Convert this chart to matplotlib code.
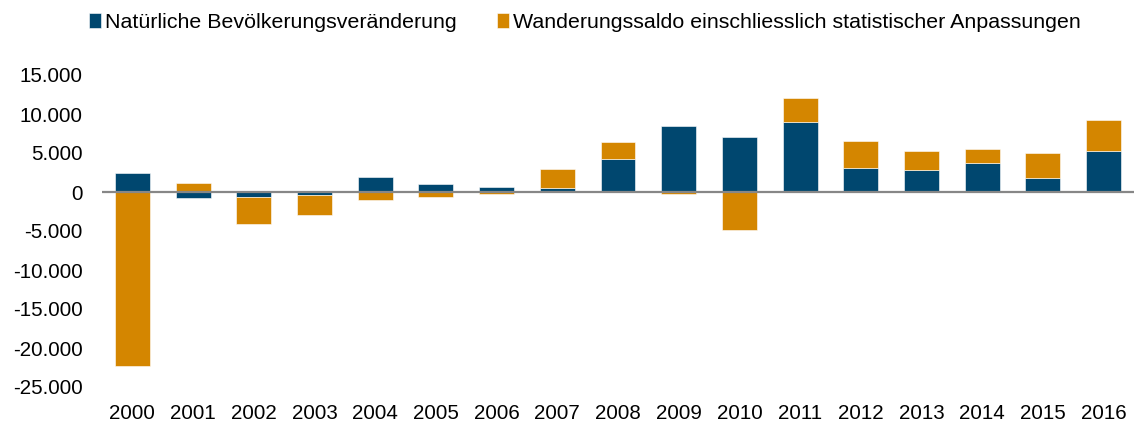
import matplotlib
matplotlib.use("Agg")
import matplotlib.pyplot as plt
import matplotlib.ticker as mticker
import numpy as np

plt.rcParams['font.family'] = ['Liberation Sans', 'DejaVu Sans']

years = [str(y) for y in range(2000, 2017)]
natural = [2500, -800, -650, -430, 1950, 1000, 650, 550, 4250, 8400, 7050,
           9000, 3100, 2800, 3700, 1850, 5300]
migration = [-22300, 1100, -3400, -2500, -1050, -650, -300, 2400, 2200, -200, -4900,
             3050, 3500, 2400, 1750, 3100, 3900]
series_labels = ["Natürliche Bevölkerungsveränderung",
                 "Wanderungssaldo einschliesslich statistischer Anpassungen"]
colors = ["#00476F", "#D48600"]

fig = plt.figure(figsize=(11.34, 4.24), dpi=100)
ax = fig.add_axes([102 / 1134, 37 / 424, 1032 / 1134, 312 / 424])

x = np.arange(len(years))
pos_base = np.zeros(len(years))
neg_base = np.zeros(len(years))
handles = []
for vals, color, label in zip([natural, migration], colors, series_labels):
    vals = np.array(vals, dtype=float)
    bottom = np.where(vals >= 0, pos_base, neg_base)
    h = ax.bar(x, vals, width=0.575, bottom=bottom, color=color, label=label,
               edgecolor="white", linewidth=0.4, zorder=2)
    handles.append(h)
    pos_base += np.clip(vals, 0, None)
    neg_base += np.clip(vals, None, 0)

ax.axhline(0, color="#878787", linewidth=1.6, zorder=3)

ax.set_xlim(-0.5, len(years) - 0.5)
ax.set_ylim(-25000, 15000)
ax.set_xticks(x)
ax.set_xticklabels(years)
ax.set_yticks(np.arange(-25000, 15001, 5000))
ax.yaxis.set_major_formatter(mticker.FuncFormatter(
    lambda v, p: f"{int(v):,}".replace(",", ".")))
ax.tick_params(axis="both", length=0, labelsize=14.8, colors="black")
ax.tick_params(axis="x", pad=12)
ax.tick_params(axis="y", pad=14)
for spine in ax.spines.values():
    spine.set_visible(False)

fig.legend(handles=handles, labels=series_labels, loc="center",
           bbox_to_anchor=(585 / 1134, 1 - 22 / 424), ncol=2, frameon=False,
           fontsize=15.4, handlelength=0.55, handleheight=0.7, handletextpad=0.2,
           columnspacing=1.9, borderaxespad=0)

fig.savefig("out.png", dpi=100)
